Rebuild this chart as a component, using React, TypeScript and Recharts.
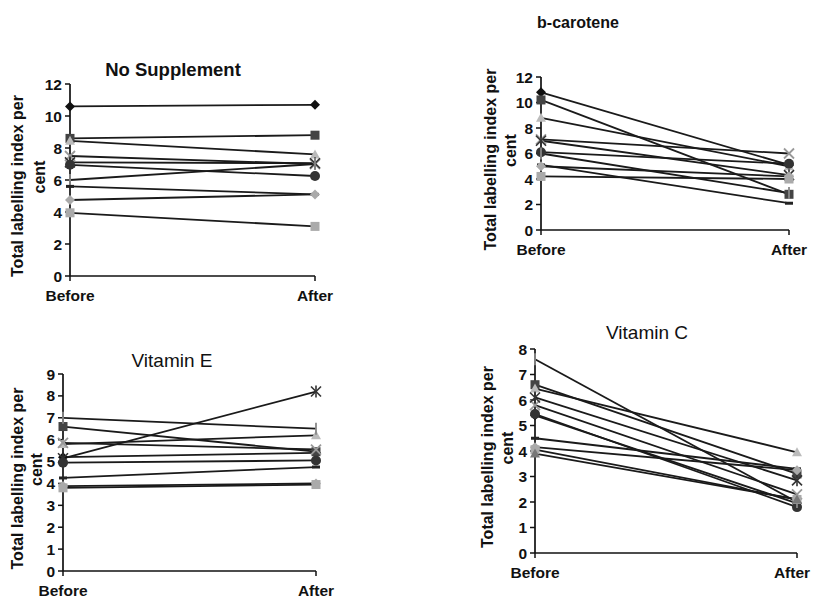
import React from "react";
import { LineChart, Line, XAxis, YAxis } from "recharts";

const FONT = '"Liberation Sans", Arial, sans-serif';

const categories = ["Before", "After"];

// No Supplement
const noSuppBefore = [10.6, 8.6, 8.45, 7.5, 7.1, 6.95, 6.0, 5.6, 4.75, 3.95];
const noSuppAfter = [10.7, 8.8, 7.6, 7.0, 7.05, 6.25, 7.0, 5.1, 5.1, 3.1];

// b-carotene
const bCaroBefore = [10.8, 10.2, 8.8, 7.1, 7.0, 6.1, 6.0, 5.1, 5.0, 4.2];
const bCaroAfter = [5.1, 2.8, 5.0, 6.0, 4.3, 5.2, 2.9, 2.1, 4.2, 4.0];

// Vitamin E
const vitEBefore = [5.2, 6.6, 5.8, 5.85, 5.15, 4.95, 7.0, 4.25, 3.88, 3.8];
const vitEAfter = [5.4, 5.45, 6.2, 5.55, 8.2, 5.05, 6.5, 4.75, 4.0, 3.95];

// Vitamin C
const vitCBefore = [5.4, 6.6, 6.45, 5.8, 6.1, 5.45, 7.6, 4.5, 4.15, 4.05, 3.9];
const vitCAfter = [1.95, 3.1, 3.95, 2.3, 2.85, 1.8, 2.0, 3.3, 3.25, 2.1, 2.1];

const ticks12 = [0, 2, 4, 6, 8, 10, 12];
const ticks9 = [0, 1, 2, 3, 4, 5, 6, 7, 8, 9];
const ticks8 = [0, 1, 2, 3, 4, 5, 6, 7, 8];

// excel-ish marker order, printed in greyscale
const MARKERS = [
  { shape: "diamond", color: "#111" },
  { shape: "square", color: "#444" },
  { shape: "triangle", color: "#bbb" },
  { shape: "x", color: "#999" },
  { shape: "star", color: "#333" },
  { shape: "circle", color: "#333" },
  { shape: "plus", color: "#888" },
  { shape: "dash", color: "#222" },
  { shape: "diamond", color: "#aaa" },
  { shape: "square", color: "#aaa" },
  { shape: "triangle", color: "#777" },
];

function toRows(before: number[], after: number[]) {
  return categories.map((name, i) => {
    const row: Record<string, number | string> = { name };
    (i === 0 ? before : after).forEach((v, k) => {
      row["s" + k] = v;
    });
    return row;
  });
}

function Marker({ cx, cy, shape, color }: any) {
  if (cx == null || cy == null) return null;
  const s = 5;
  switch (shape) {
    case "diamond":
      return <polygon points={`${cx},${cy - s} ${cx + s},${cy} ${cx},${cy + s} ${cx - s},${cy}`} fill={color} />;
    case "square":
      return <rect x={cx - 4.5} y={cy - 4.5} width={9} height={9} fill={color} />;
    case "triangle":
      return <polygon points={`${cx},${cy - 5} ${cx + 5},${cy + 4} ${cx - 5},${cy + 4}`} fill={color} />;
    case "x":
      return (
        <g stroke={color} strokeWidth={1.8}>
          <line x1={cx - 5} y1={cy - 5} x2={cx + 5} y2={cy + 5} />
          <line x1={cx - 5} y1={cy + 5} x2={cx + 5} y2={cy - 5} />
        </g>
      );
    case "star":
      return (
        <g stroke={color} strokeWidth={1.6}>
          <line x1={cx - 5} y1={cy - 5} x2={cx + 5} y2={cy + 5} />
          <line x1={cx - 5} y1={cy + 5} x2={cx + 5} y2={cy - 5} />
          <line x1={cx} y1={cy - 6} x2={cx} y2={cy + 6} />
        </g>
      );
    case "circle":
      return <circle cx={cx} cy={cy} r={5} fill={color} />;
    case "plus":
      return <line x1={cx} y1={cy - 6} x2={cx} y2={cy + 6} stroke={color} strokeWidth={1.8} />;
    case "dash":
      return <rect x={cx - 4} y={cy - 1.5} width={8} height={3} fill={color} />;
    default:
      return null;
  }
}

function AxisTitle({ viewBox, off1, off2 }: any) {
  if (!viewBox) return null;
  const ax = viewBox.x + viewBox.width;
  const cy = viewBox.y + viewBox.height / 2;
  const style = { fontFamily: FONT, fontWeight: 700, fontSize: 16, fill: "#111" };
  return (
    <g>
      <text transform={`translate(${ax - off1},${cy + 6}) rotate(-90)`} textAnchor="middle" dominantBaseline="central" style={style}>
        Total labelling index per
      </text>
      <text transform={`translate(${ax - off2},${cy - 3}) rotate(-90)`} textAnchor="middle" dominantBaseline="central" style={style}>
        cent
      </text>
    </g>
  );
}

// x tick that never runs past the page edge
function XTick({ x, y, payload, chartLeft }: any) {
  const half = payload.value === "After" ? 19 : 23;
  const maxX = 811 - chartLeft - half;
  const tx = Math.min(x, maxX);
  return (
    <text x={tx} y={y} dy="0.71em" textAnchor="middle" style={{ fill: "#111", fontSize: 15.5, fontWeight: 700, fontFamily: FONT }}>
      {payload.value}
    </text>
  );
}

interface PanelProps {
  title: string;
  titleX: number;
  titleY: number;
  titleSize: number;
  titleWeight: number;
  plotLeft: number;
  plotTop: number;
  plotRight: number;
  plotBottom: number;
  yMax: number;
  ticks: number[];
  before: number[];
  after: number[];
  off1: number;
  off2: number;
}

const YW = 75;
const TOPPAD = 12;
const XH = 40;
const RIGHTPAD = 32;

function Panel(p: PanelProps) {
  const data = toRows(p.before, p.after);
  const width = p.plotRight - p.plotLeft + YW + RIGHTPAD;
  const height = p.plotBottom - p.plotTop + TOPPAD + XH;
  const chartLeft = p.plotLeft - YW;
  const tickStyle = { fill: "#111", fontSize: 15.5, fontWeight: 700, fontFamily: FONT };
  return (
    <>
      <div
        style={{
          position: "absolute",
          left: p.titleX - 150,
          width: 300,
          top: p.titleY,
          textAlign: "center",
          fontFamily: FONT,
          fontSize: p.titleSize,
          fontWeight: p.titleWeight,
          color: "#111",
          lineHeight: 1,
        }}
      >
        {p.title}
      </div>
      <div style={{ position: "absolute", left: chartLeft, top: p.plotTop - TOPPAD }}>
        <LineChart width={width} height={height} data={data} margin={{ top: TOPPAD, right: RIGHTPAD, bottom: 0, left: 0 }}>
          <XAxis
            dataKey="name"
            height={XH}
            tick={<XTick chartLeft={chartLeft} />}
            tickSize={5}
            tickMargin={9}
            axisLine={{ stroke: "#111", strokeWidth: 1.7 }}
            tickLine={{ stroke: "#111", strokeWidth: 1.5 }}
            interval={0}
          />
          <YAxis
            width={YW}
            domain={[0, p.yMax]}
            ticks={p.ticks}
            interval={0}
            tick={tickStyle}
            tickSize={5}
            tickMargin={3}
            axisLine={{ stroke: "#111", strokeWidth: 1.7 }}
            tickLine={{ stroke: "#111", strokeWidth: 1.5 }}
            label={<AxisTitle off1={p.off1} off2={p.off2} />}
          />
          {p.before.map((_, k) => (
            <Line
              key={k}
              dataKey={"s" + k}
              stroke="#1a1a1a"
              strokeWidth={1.8}
              isAnimationActive={false}
              dot={(d: any) => (
                <Marker key={`d${k}-${d.index}`} cx={d.cx} cy={d.cy} shape={MARKERS[k].shape} color={MARKERS[k].color} />
              )}
              activeDot={false}
            />
          ))}
        </LineChart>
      </div>
    </>
  );
}

export default function App() {
  return (
    <div style={{ position: "absolute", left: 0, top: 0, width: 813, height: 606, overflow: "hidden", background: "#fff" }}>
      <Panel
        title="No Supplement"
        titleX={173}
        titleY={61}
        titleSize={18.5}
        titleWeight={700}
        plotLeft={70}
        plotTop={84}
        plotRight={315}
        plotBottom={276}
        yMax={12}
        ticks={ticks12}
        before={noSuppBefore}
        after={noSuppAfter}
        off1={53}
        off2={31}
      />
      <Panel
        title="b-carotene"
        titleX={578}
        titleY={15}
        titleSize={16}
        titleWeight={700}
        plotLeft={541}
        plotTop={77}
        plotRight={789}
        plotBottom={230}
        yMax={12}
        ticks={ticks12}
        before={bCaroBefore}
        after={bCaroAfter}
        off1={51}
        off2={31}
      />
      <Panel
        title="Vitamin E"
        titleX={172}
        titleY={351}
        titleSize={19}
        titleWeight={400}
        plotLeft={63}
        plotTop={374}
        plotRight={316}
        plotBottom={571}
        yMax={9}
        ticks={ticks9}
        before={vitEBefore}
        after={vitEAfter}
        off1={46}
        off2={27}
      />
      <Panel
        title="Vitamin C"
        titleX={647}
        titleY={323}
        titleSize={19}
        titleWeight={400}
        plotLeft={535}
        plotTop={349}
        plotRight={797}
        plotBottom={553}
        yMax={8}
        ticks={ticks8}
        before={vitCBefore}
        after={vitCAfter}
        off1={48}
        off2={28}
      />
    </div>
  );
}
